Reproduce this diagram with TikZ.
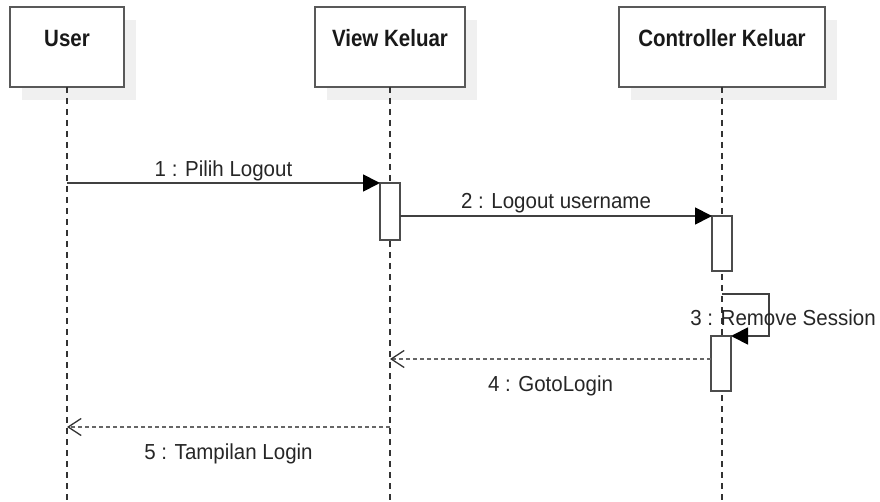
\documentclass[tikz,border=0pt]{standalone}
\usepackage{fontspec}
\usepackage{graphicx}
\setmainfont{Liberation Sans}
\usetikzlibrary{arrows.meta,shadows}

% taller, narrower-looking lettering
\newcommand\headtext[1]{\scalebox{1}[1.15]{#1}}
\newcommand\msgtext[1]{\scalebox{1}[1.06]{#1}}

\begin{document}
\begin{tikzpicture}[x=1pt,y=-1pt,
  actor/.style={draw=black!65, line width=1.6pt, fill=white,
    minimum width=#1, minimum height=80pt, inner sep=0pt, outer sep=0pt,
    anchor=north west, text=black!90,
    font=\fontsize{20.5}{24}\selectfont\bfseries,
    text height=15pt, text depth=15pt,
    drop shadow={shadow xshift=12pt, shadow yshift=-13pt,
      fill=black!6, opacity=1}},
  lifeline/.style={draw=black!80, line width=1.2pt, dash pattern=on 6pt off 5pt},
  activation/.style={draw=black!70, line width=1.5pt, fill=white,
    minimum width=20pt, inner sep=0pt, outer sep=0pt, anchor=north},
  call/.style={draw=black!75, line width=1.8pt,
    -{Triangle[length=17pt,width=17pt,color=black]}},
  reply/.style={draw=black!60, line width=1.5pt, dash pattern=on 4pt off 3pt,
    -{Straight Barb[length=13pt,width=17pt,line width=1.3pt,color=black!80]}},
  msglabel/.style={font=\fontsize{20.5}{24}\selectfont, text=black!85,
    inner sep=0pt, anchor=base}
]
\useasboundingbox (0,0) rectangle (880,502);

% participants
\node[actor=114pt] (u) at (10,7)  {\headtext{User}};
\node[actor=150pt] (v) at (315,7) {\headtext{View Keluar}};
\node[actor=206pt] (c) at (619,7) {\headtext{Controller Keluar}};

% lifelines
\draw[lifeline] (u.south) -- (u.south |- 0,502);
\draw[lifeline] (v.south) -- (v.south |- 0,502);
\draw[lifeline] (c.south) -- (c.south |- 0,502);

% activation bars
\node[activation, minimum height=57pt] (a1) at (v.south |- 0,183) {};
\node[activation, minimum height=55pt] (a2) at (c.south |- 0,216) {};
\node[activation, minimum height=55pt] (a3) at ([xshift=-1pt]c.south |- 0,336) {};

% messages
\draw[call] (u.south |- a1.north) -- (a1.north west)
  node[msglabel, pos=0.5, yshift=6pt] {\msgtext{1 : Pilih Logout}};
\draw[call] (a1.east |- a2.north) -- (a2.north west)
  node[msglabel, pos=0.5, yshift=7pt] {\msgtext{2 : Logout username}};
\draw[call] (c.south |- 0,294) -| ([xshift=38pt]a3.north east) -- (a3.north east);
\node[msglabel] (l3) at (783,325) {\msgtext{3 : Remove Session}};
\draw[reply] (a3.west |- 0,359) -- (v.south |- 0,359)
  node[msglabel, pos=0.5, yshift=-32pt] {\msgtext{4 : GotoLogin}};
\draw[reply] (v.south |- 0,427) -- (u.south |- 0,427)
  node[msglabel, pos=0.5, yshift=-32pt] {\msgtext{5 : Tampilan Login}};
\end{tikzpicture}
\end{document}
